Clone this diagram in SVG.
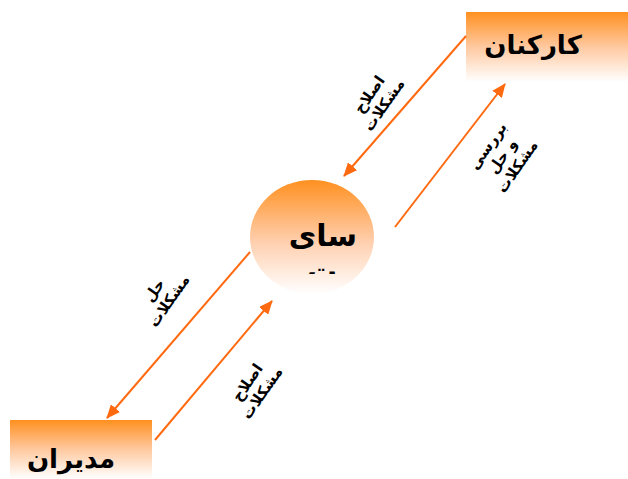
<svg xmlns="http://www.w3.org/2000/svg" width="628" height="479" viewBox="0 0 628 479">
<style>
.lbl{font-family:"DejaVu Sans",sans-serif;font-weight:bold;fill:#000}
.box{font-size:26px}
.sm{font-size:15px}
.ln{stroke:#FF6A10;stroke-width:2;fill:none}
</style>
<defs>
<linearGradient id="g" x1="0" y1="0" x2="0" y2="1">
<stop offset="0" stop-color="#FF9020"/>
<stop offset="0.5" stop-color="#FFC9A0"/>
<stop offset="1" stop-color="#FFFFFF"/>
</linearGradient>
<linearGradient id="ge" x1="0" y1="0" x2="0" y2="1">
<stop offset="0" stop-color="#FF9020"/>
<stop offset="0.55" stop-color="#FFD0B0"/>
<stop offset="1" stop-color="#FFFFFF"/>
</linearGradient>
<marker id="ah" markerWidth="14" markerHeight="12" refX="13" refY="6" orient="auto" markerUnits="userSpaceOnUse">
<path d="M0,0 L14,6 L0,12 Z" fill="#FF6A10"/>
</marker>
<clipPath id="ec"><rect x="240" y="170" width="140" height="104"/></clipPath>
</defs>
<rect width="628" height="479" fill="#fff"/>
<g id="karkonan">
<rect x="466" y="12" width="162" height="70" fill="url(#g)"/>
<text class="lbl box" x="533" y="54" text-anchor="middle">کارکنان</text>
</g>
<g id="modiran">
<rect x="10" y="420" width="142" height="59" fill="url(#g)"/>
<text class="lbl box" x="71" y="468" text-anchor="middle">مدیران</text>
</g>
<g id="system">
<ellipse cx="312" cy="237" rx="62" ry="57" fill="url(#ge)"/>
<text class="lbl" style="font-size:30px" x="323" y="246" text-anchor="middle">سای</text>
<g clip-path="url(#ec)"><text class="lbl" style="font-size:30px" x="322" y="281" text-anchor="middle">ت</text></g>
</g>
<g id="connectors">
<line class="ln" x1="466" y1="36" x2="344" y2="176" marker-end="url(#ah)"/>
<line class="ln" x1="395" y1="227" x2="505" y2="84" marker-end="url(#ah)"/>
<line class="ln" x1="250" y1="252" x2="107" y2="418" marker-end="url(#ah)"/>
<line class="ln" x1="155" y1="440" x2="272" y2="301" marker-end="url(#ah)"/>
</g>
<g id="labels">
<text class="lbl sm" transform="translate(380,102) rotate(-55)" text-anchor="middle"><tspan x="0" y="-8">اصلاح</tspan><tspan x="0" y="10">مشکلات</tspan></text>
<text class="lbl sm" transform="translate(505,158) rotate(-55)" text-anchor="middle"><tspan x="0" y="-16">بررسی</tspan><tspan x="0" y="2">و حل</tspan><tspan x="0" y="20">مشکلات</tspan></text>
<text class="lbl sm" transform="translate(165,298) rotate(-55)" text-anchor="middle"><tspan x="0" y="-8">حل</tspan><tspan x="0" y="10">مشکلات</tspan></text>
<text class="lbl sm" transform="translate(258,390) rotate(-55)" text-anchor="middle"><tspan x="0" y="-8">اصلاح</tspan><tspan x="0" y="10">مشکلات</tspan></text>
</g>
</svg>
